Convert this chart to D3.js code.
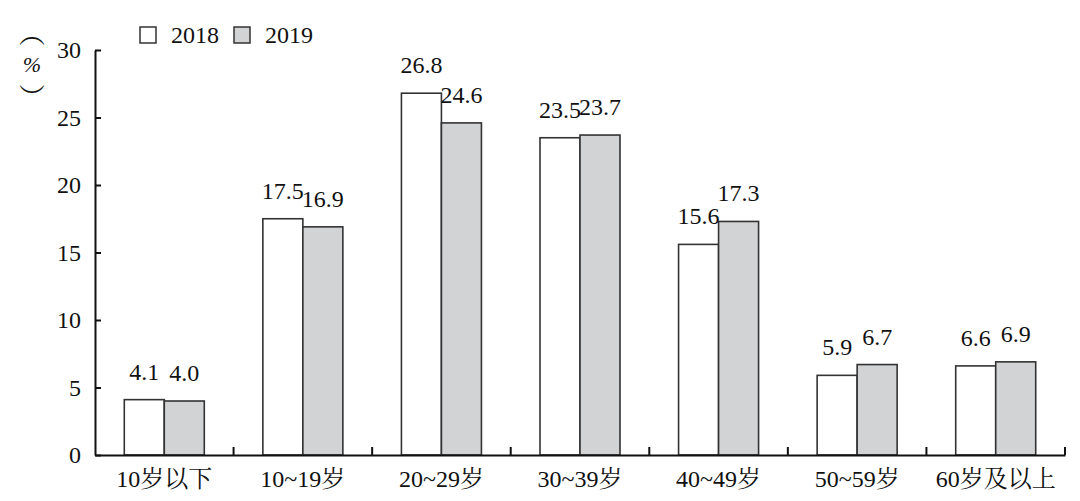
<!DOCTYPE html>
<html>
<head>
<meta charset="utf-8">
<script src="https://cdn.jsdelivr.net/npm/d3@7"></script>
<style>
  body { margin: 0; background: #fff; }
  svg { display: block; }
</style>
</head>
<body>
<svg id="chart" width="1080" height="501"></svg>
<script>
const categories = ["10岁以下", "10~19岁", "20~29岁", "30~39岁", "40~49岁", "50~59岁", "60岁及以上"];
const seriesNames = ["2018", "2019"];
const values2018 = [4.1, 17.5, 26.8, 23.5, 15.6, 5.9, 6.6];
const values2019 = [4.0, 16.9, 24.6, 23.7, 17.3, 6.7, 6.9];
const yTicks = [0, 5, 10, 15, 20, 25, 30];

const FONT = "'Liberation Serif', 'Noto Serif CJK SC', serif";
const colors = { "2018": "#ffffff", "2019": "#d2d3d5" };
const svg = d3.select("#chart");
const mLeft = 95, mRight = 1065, mTop = 50, mBottom = 455;

const x = d3.scaleBand().domain(categories).range([mLeft, mRight]).padding(0);
const inner = d3.scaleBand().domain(seriesNames).range([0, 80]).padding(0);
const innerOffset = (x.bandwidth() - 80) / 2;
const y = d3.scaleLinear().domain([0, 30]).range([mBottom, mTop]);

const data = categories.map((c, i) => ({ cat: c, vals: [
  { s: "2018", v: values2018[i] }, { s: "2019", v: values2019[i] } ] }));

// bars
const g = svg.append("g");
const groups = g.selectAll("g.grp").data(data).join("g").attr("class", "grp")
  .attr("transform", d => `translate(${x(d.cat) + innerOffset},0)`);
groups.selectAll("rect").data(d => d.vals).join("rect")
  .attr("x", d => inner(d.s))
  .attr("y", d => y(d.v))
  .attr("width", inner.bandwidth())
  .attr("height", d => y(0) - y(d.v))
  .attr("fill", d => colors[d.s])
  .attr("stroke", "#333")
  .attr("stroke-width", 1.6);
groups.selectAll("text").data(d => d.vals).join("text")
  .attr("x", d => inner(d.s) + inner.bandwidth() / 2)
  .attr("y", d => y(d.v) - 20)
  .attr("text-anchor", "middle")
  .style("font-family", FONT).style("font-size", "24px").attr("fill", "#111")
  .text(d => d.v.toFixed(1));

// y axis
const yAxis = svg.append("g").attr("transform", `translate(${mLeft},0)`)
  .call(d3.axisLeft(y).tickValues(yTicks).tickSize(-6).tickSizeOuter(0).tickPadding(14));
yAxis.select(".domain").attr("stroke", "#111").attr("stroke-width", 2);
yAxis.selectAll(".tick line").attr("stroke", "#111").attr("stroke-width", 2);
yAxis.selectAll(".tick text").style("font-size", "24px").style("font-family", FONT).attr("fill", "#111");

// x axis
const xAxis = svg.append("g").attr("transform", `translate(0,${mBottom})`)
  .call(d3.axisBottom(x).tickSize(0).tickPadding(15));
xAxis.select(".domain").attr("stroke", "#111").attr("stroke-width", 2);
xAxis.selectAll(".tick text").style("font-size", "24px").style("font-family", FONT).attr("fill", "#111");
xAxis.selectAll("line.bound").data(categories).join("line").attr("class", "bound")
  .attr("x1", d => x(d) + x.step()).attr("x2", d => x(d) + x.step())
  .attr("y1", 0).attr("y2", -8)
  .attr("stroke", "#111").attr("stroke-width", 2);

// y axis unit label (vertical parentheses)
const ul = svg.append("g").attr("transform", "translate(32,0)");
ul.append("text").attr("x", 0).attr("y", 31).attr("text-anchor", "middle")
  .attr("dominant-baseline", "central").style("font-family", "'Noto Serif CJK SC', 'Noto Sans CJK SC'")
  .style("font-size", "26px").attr("fill", "#111").text("︵");
ul.append("text").attr("x", 0).attr("y", 64).attr("text-anchor", "middle")
  .attr("dominant-baseline", "central").style("font-family", FONT).style("font-size", "22px")
  .style("font-style", "italic").attr("fill", "#111").text("%");
ul.append("text").attr("x", 0).attr("y", 95).attr("text-anchor", "middle")
  .attr("dominant-baseline", "central").style("font-family", "'Noto Serif CJK SC', 'Noto Sans CJK SC'")
  .style("font-size", "26px").attr("fill", "#111").text("︶");

// legend
const lg = svg.append("g").attr("transform", "translate(140,27)");
const items = lg.selectAll("g").data(seriesNames).join("g")
  .attr("transform", (d, i) => `translate(${i * 94},0)`);
items.append("rect").attr("width", 16).attr("height", 16)
  .attr("fill", d => colors[d]).attr("stroke", "#333").attr("stroke-width", 1.5);
items.append("text").attr("x", 31).attr("y", 16)
  .style("font-family", FONT).style("font-size", "24px").attr("fill", "#111").text(d => d);
</script>
</body>
</html>
